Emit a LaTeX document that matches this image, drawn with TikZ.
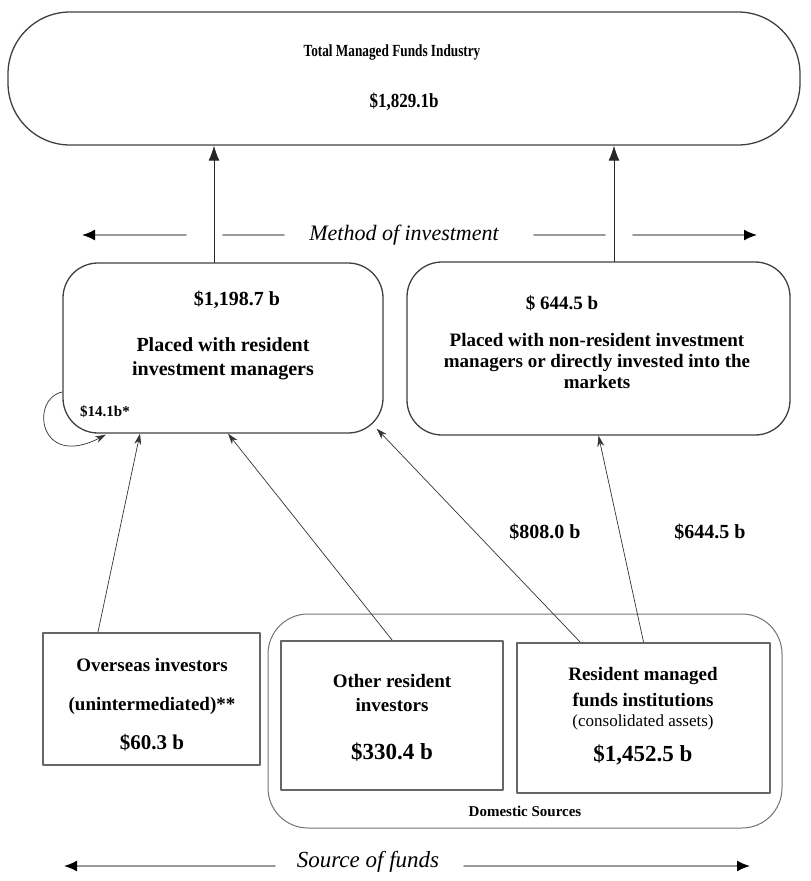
\documentclass[tikz,border=0pt]{standalone}
\usepackage{fontspec}
\usepackage{graphicx}
\setmainfont{Liberation Serif}
\usetikzlibrary{arrows.meta}
\begin{document}
\begin{tikzpicture}[x=1pt,y=-1pt,line join=round,line cap=round,
  rbox/.style={draw=black!75,line width=1.3pt,rounded corners=35pt,inner sep=0pt},
  sbox/.style={draw=black!60,line width=2.2pt,inner sep=0pt},
  lbl/.style={font=\bfseries\fontsize{19}{24}\selectfont,align=center,inner sep=0pt},
  amt/.style={font=\bfseries\fontsize{23}{26}\selectfont,inner sep=0pt},
  side/.style={font=\itshape\fontsize{22}{24}\selectfont,inner sep=0pt},
  flow/.style={-{Stealth[length=11pt,width=7pt]},black!80,line width=0.7pt},
  up/.style={-{Latex[length=15pt,width=11pt]},black!85,line width=0.9pt},
  axis/.style={black!40,line width=1.6pt},
  axtip/.style={axis,-{Latex[length=13pt,width=11pt,color=black]}}]
\useasboundingbox (0,0) rectangle (811,881);
% industry total
\node[rbox,rounded corners=62pt,minimum width=792pt,minimum height=133pt] (total) at (404,78.5) {};
\node[lbl,font=\bfseries\fontsize{17}{20}\selectfont] (total-txt) at (392,52) {\scalebox{0.78}[1]{Total Managed Funds Industry}};
\node[amt,font=\bfseries\fontsize{20}{22}\selectfont] (total-amt) at (404,102) {\scalebox{0.85}[1]{\$1,829.1b}};
% method of investment
\node[rbox,minimum width=320pt,minimum height=170pt] (resmgr) at (223,348) {};
\node[lbl,font=\bfseries\fontsize{20}{24}\selectfont] (resmgr-amt) at (237,300) {\$1,198.7 b};
\node[lbl,font=\bfseries\fontsize{20}{24}\selectfont] (resmgr-txt) at (223,359) {Placed with resident\\investment managers};
\node[lbl,font=\bfseries\fontsize{15}{16}\selectfont] (loop-amt) at (105,412) {\$14.1b*};
\node[rbox,minimum width=383pt,minimum height=173pt] (nonres) at (598.5,348.5) {};
\node[lbl] (nonres-amt) at (562,303) {\$ 644.5 b};
\node[lbl,font=\bfseries\fontsize{19}{21}\selectfont] (nonres-txt) at (597,361) {Placed with non-resident investment\\managers or directly invested into the\\markets};
\node[side] (method) at (404,235) {Method of investment};
\draw[axtip] (186,235) -- (82,235);
\draw[axis] (223,235) -- (284,235) (534,235) -- (605,235);
\draw[axtip] (633,235) -- (757,235);
\draw[up] ([xshift=-9pt]resmgr.north) -- ([xshift=-9pt]resmgr.north |- total.south);
\draw[up] ([xshift=15.5pt]nonres.north) -- ([xshift=15.5pt]nonres.north |- total.south);
% sources
\node[sbox,minimum width=217pt,minimum height=132pt] (over) at (151.5,699) {};
\node[lbl,font=\bfseries\fontsize{19}{24}\selectfont] (over-txt) at (152,686.5) {Overseas investors\\[15pt](unintermediated)**};
\node[amt,font=\bfseries\fontsize{21}{24}\selectfont] (over-amt) at (152,743) {\$60.3 b};
\node[rbox,draw=black!55,line width=1pt,rounded corners=40pt,minimum width=514pt,minimum height=214pt] (dom) at (525,721) {};
\node[lbl,font=\bfseries\fontsize{15}{18}\selectfont] (dom-txt) at (525,811) {Domestic Sources};
\node[sbox,minimum width=222pt,minimum height=149pt] (oth) at (392,715.5) {};
\node[lbl] (oth-txt) at (392,693) {Other resident\\investors};
\node[amt] (oth-amt) at (392,752) {\$330.4 b};
\node[sbox,minimum width=253pt,minimum height=150pt] (inst) at (643.5,718) {};
\node[lbl,font=\bfseries\fontsize{19}{26}\selectfont] (inst-txt) at (643,687) {Resident managed\\funds institutions};
\node[inner sep=0pt,font=\fontsize{17}{18}\selectfont] (inst-note) at (643,722) {(consolidated assets)};
\node[amt] (inst-amt) at (643,755) {\$1,452.5 b};
\draw[flow] ([xshift=-53.5pt]over.north) -- ([xshift=-83pt]resmgr.south);
\draw[flow] (oth.north) -- ([xshift=5pt]resmgr.south);
\draw[flow] ([xshift=-63.5pt]inst.north) -- ([xshift=-7pt,yshift=5pt]resmgr.south east);
\draw[flow] (inst.north) -- (nonres.south);
\draw[flow] ([yshift=-44pt]resmgr.west) .. controls (30,398) and (38,470) .. ([xshift=-117pt,yshift=-1pt]resmgr.south);
\node[lbl,font=\bfseries\fontsize{20}{24}\selectfont] (flow-res) at (545,532) {\$808.0 b};
\node[lbl,font=\bfseries\fontsize{20}{24}\selectfont] (flow-non) at (710,532) {\$644.5 b};
\node[side,font=\itshape\fontsize{23}{24}\selectfont] (source) at (368,862) {Source of funds};
\draw[axtip] (275,866) -- (64,866);
\draw[axtip] (464,866) -- (750,866);
\end{tikzpicture}
\end{document}
